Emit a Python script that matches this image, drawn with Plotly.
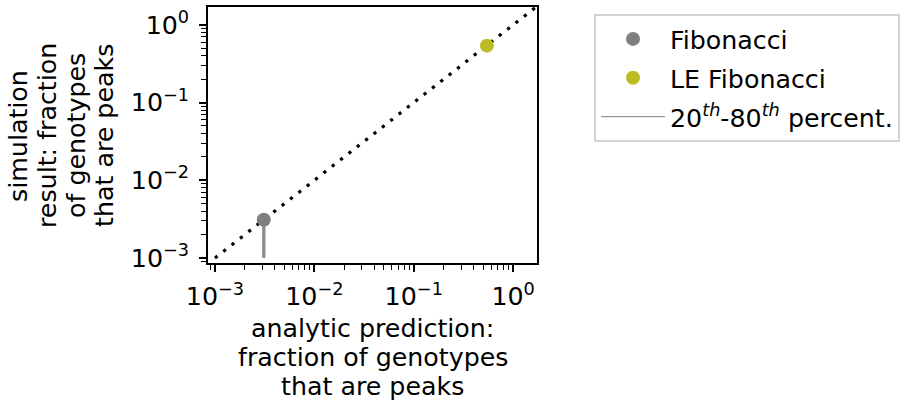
import plotly.graph_objects as go

# Analytic prediction vs. simulated fraction of genotypes that are peaks
models = ["Fibonacci", "LE Fibonacci"]
predicted = [0.0031, 0.545]
simulated = [0.0031, 0.54]
pct20 = [0.001, None]
pct80 = [0.0031, None]
colors = ["#7f7f7f", "#bcbd22"]

major_vals = [0.001, 0.01, 0.1, 1]
major_text = ["10<sup>−3</sup>", "10<sup>−2</sup>", "10<sup>−1</sup>", "10<sup>0</sup>"]
minor_vals = [m * d for d in [0.0001, 0.001, 0.01, 0.1, 1] for m in range(2, 10)]
diag = [0.001, 2.0]

x_title = ["analytic prediction:", "fraction of genotypes", "that are peaks"]
y_title = ["simulation", "result: fraction", "of genotypes", "that are peaks"]

W, H = 909, 403
L, R, T, B = 208, 537, 5, 263
FONT = "DejaVu Sans"
FS = 25.3
XR = [-3.07, 0.24]
YR = [-3.065, 0.23]

fig = go.Figure()

# y = x reference line
fig.add_trace(go.Scatter(
    x=diag, y=diag, mode="lines", showlegend=False, hoverinfo="skip",
    line=dict(color="black", width=3.2, dash="3.2px,7.4px"),
))

for i, name in enumerate(models):
    err = None
    if pct20[i] is not None:
        err = dict(type="data", symmetric=False,
                   array=[pct80[i] - simulated[i]],
                   arrayminus=[simulated[i] - pct20[i]],
                   color="rgba(127,127,127,0.9)", thickness=3.3, width=0)
    fig.add_trace(go.Scatter(
        x=[predicted[i]], y=[simulated[i]], mode="markers", name=name,
        marker=dict(color=colors[i], size=14, line=dict(width=0)),
        error_y=err, legendgroup=name,
    ))

# legend entry for the percentile bars
fig.add_trace(go.Scatter(
    x=[None], y=[None], mode="lines",
    name="20<sup><i>th</i></sup>-80<sup><i>th</i></sup> percent.",
    line=dict(color="#7f7f7f", width=1), legendgroup="pct",
))

# main axes: every tick (decades labelled, minor ones blank)
all_vals = major_vals + minor_vals
all_text = major_text + [""] * len(minor_vals)
axis_common = dict(
    type="log", showgrid=False, zeroline=False,
    showline=True, linecolor="black", linewidth=1.6, mirror=True,
    ticks="outside", ticklen=5, tickwidth=1.3, tickcolor="black",
    tickmode="array", tickvals=all_vals, ticktext=all_text,
    tickfont=dict(family=FONT, size=FS, color="black"),
)

# overlay axes lengthening the decade ticks
major_axis = dict(
    type="log", showgrid=False, zeroline=False, showline=False,
    ticks="outside", ticklen=8, tickwidth=1.8, tickcolor="black",
    tickmode="array", tickvals=major_vals, showticklabels=False,
)

fig.update_layout(
    width=W, height=H,
    margin=dict(l=L, r=W - R, t=T, b=H - B, pad=0),
    paper_bgcolor="white", plot_bgcolor="white",
    font=dict(family=FONT, size=FS, color="black"),
    xaxis=dict(range=XR, ticklabelstandoff=5, **axis_common),
    yaxis=dict(range=YR, ticklabelstandoff=7, **axis_common),
    xaxis2=dict(range=XR, overlaying="x", side="bottom", anchor="y", **major_axis),
    yaxis2=dict(range=YR, overlaying="y", side="left", anchor="x", **major_axis),
    legend=dict(
        x=(594 - L) / (R - L), y=(B - 12) / (B - T), xanchor="left", yanchor="top",
        bordercolor="#d4d4d4", borderwidth=2, bgcolor="white",
        font=dict(family=FONT, size=FS, color="black"),
        itemwidth=64, tracegroupgap=3,
    ),
)

fig.add_trace(go.Scatter(x=[0.01], y=[0.01], xaxis="x2", yaxis="y2", mode="markers",
                         marker=dict(opacity=0), showlegend=False, hoverinfo="skip"))

def px_x(p):
    return (p - L) / (R - L)

def px_y(p):
    return (B - p) / (B - T)

for text, cy in zip(x_title, [329, 358, 387]):
    fig.add_annotation(text=text, xref="paper", yref="paper",
                       x=0.5, y=px_y(cy), xanchor="center", yanchor="middle",
                       showarrow=False, font=dict(family=FONT, size=FS, color="black"))

for text, cx in zip(y_title, [19, 48, 77, 105]):
    fig.add_annotation(text=text, xref="paper", yref="paper", textangle=-90,
                       x=px_x(cx), y=px_y(135), xanchor="center", yanchor="middle",
                       showarrow=False, font=dict(family=FONT, size=FS, color="black"))

fig.write_html("out.html")
